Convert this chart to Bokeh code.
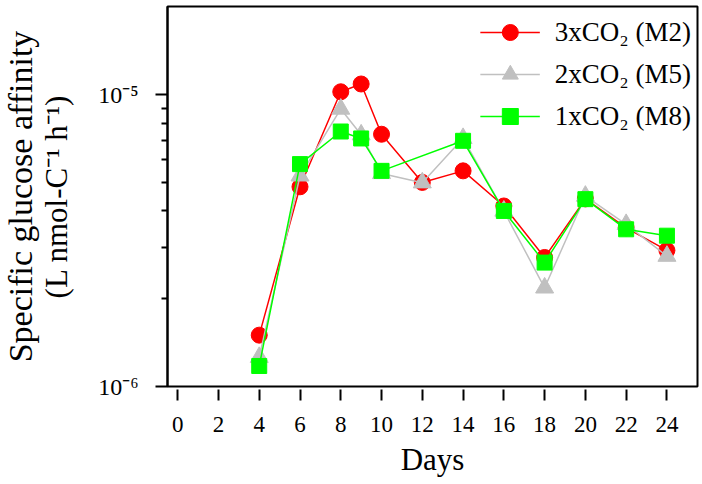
from bokeh.plotting import figure
from bokeh.models import Range1d, FixedTicker, CustomJSTickFormatter, Legend, LegendItem, Title
from bokeh.embed import file_html
from bokeh.resources import INLINE

# ---- data ----
days_m2 = [4, 6, 8, 9, 10, 12, 14, 16, 18, 20, 22, 24]
m2 = [1.50e-6, 4.84e-6, 1.025e-5, 1.09e-5, 7.33e-6, 5.01e-6, 5.49e-6, 4.16e-6, 2.77e-6, 4.40e-6, 3.50e-6, 2.93e-6]

days_m5 = [4, 6, 8, 9, 10, 12, 14, 16, 18, 20, 22, 24]
m5 = [1.26e-6, 5.28e-6, 8.95e-6, 7.30e-6, 5.38e-6, 5.00e-6, 7.10e-6, 4.00e-6, 2.18e-6, 4.50e-6, 3.60e-6, 2.80e-6]

days_m8 = [4, 6, 8, 9, 10, 14, 16, 18, 20, 22, 24]
m8 = [1.176e-6, 5.79e-6, 7.49e-6, 7.09e-6, 5.49e-6, 6.96e-6, 4.00e-6, 2.66e-6, 4.39e-6, 3.46e-6, 3.29e-6]

labels = ["3xCO\u2082 (M2)", "2xCO\u2082 (M5)", "1xCO\u2082 (M8)"]
x_ticks = list(range(0, 25, 2))
y_major = [1e-6, 1e-5]
y_minor = [2e-6, 3e-6, 4e-6, 5e-6, 6e-6, 7e-6, 8e-6, 9e-6]
y_title_1 = "Specific glucose affinity"
y_title_2 = "(L nmol-C\u207b\u00b9 h\u207b\u00b9)"
x_title = "Days"

FONT = "Liberation Serif"

p = figure(width=702, height=484, y_axis_type="log",
           x_range=Range1d(-0.5, 25.5), y_range=Range1d(1e-6, 2.01e-5),
           output_backend="svg", toolbar_location=None,
           min_border_left=167, min_border_right=5, min_border_top=6, min_border_bottom=98)

p.grid.visible = False
p.outline_line_color = "black"
p.outline_line_width = 2
p.background_fill_color = "white"
p.border_fill_color = "white"

# x axis
xa = p.xaxis[0]
xa.ticker = FixedTicker(ticks=x_ticks)
xa.axis_line_color = None
xa.major_tick_in = -3
xa.major_tick_out = 14
xa.major_tick_line_width = 2
xa.minor_tick_line_color = None
xa.major_label_text_font = FONT
xa.major_label_text_font_size = "23px"
xa.major_label_text_color = "black"
xa.major_label_standoff = 16
xa.axis_label = x_title
xa.axis_label_text_font = FONT
xa.axis_label_text_font_size = "31px"
xa.axis_label_text_font_style = "normal"
xa.axis_label_text_color = "black"
xa.axis_label_standoff = 7

# y axis
ya = p.yaxis[0]
ya.ticker = FixedTicker(ticks=y_major, minor_ticks=y_minor)
ya.formatter = CustomJSTickFormatter(code="""
const sup = {'-':'\u207b','0':'\u2070','1':'\u00b9','2':'\u00b2','3':'\u00b3','4':'\u2074','5':'\u2075','6':'\u2076','7':'\u2077','8':'\u2078','9':'\u2079'};
const e = Math.round(Math.log10(tick)).toString();
return '10' + e.split('').map(c => sup[c]).join('');
""")
ya.axis_line_width = 2
ya.major_tick_in = 0
ya.major_tick_out = 12
ya.major_tick_line_width = 2
ya.minor_tick_in = 0
ya.minor_tick_out = 6
ya.minor_tick_line_width = 2
ya.major_label_text_font = FONT
ya.major_label_text_font_size = "24px"
ya.major_label_text_color = "black"
ya.major_label_standoff = 17
ya.axis_label = y_title_2
ya.axis_label_text_font = FONT
ya.axis_label_text_font_size = "31px"
ya.axis_label_text_font_style = "normal"
ya.axis_label_text_color = "black"
ya.axis_label_standoff = 21

t1 = Title(text=y_title_1, align="center", text_font=FONT, text_font_size="34px",
           text_font_style="normal", text_color="black", standoff=-5, offset=0)
p.add_layout(t1, "left")

RED = "#ff0000"
GRAY = "#c0c0c0"
GREEN = "#00ff00"

l1 = p.line(days_m2, m2, line_color=RED, line_width=1.5)
s1 = p.scatter(days_m2, m2, marker="circle", size=16, fill_color=RED, line_color=RED)
l2 = p.line(days_m5, m5, line_color=GRAY, line_width=1.5)
s2 = p.scatter(days_m5, m5, marker="triangle", size=18, fill_color=GRAY, line_color=GRAY)
l3 = p.line(days_m8, m8, line_color=GREEN, line_width=1.5)
s3 = p.scatter(days_m8, m8, marker="square", size=15, fill_color=GREEN, line_color=GREEN)

legend = Legend(items=[
    LegendItem(label=labels[0], renderers=[l1, s1]),
    LegendItem(label=labels[1], renderers=[l2, s2]),
    LegendItem(label=labels[2], renderers=[l3, s3]),
], location="top_right")
legend.border_line_color = None
legend.background_fill_alpha = 0
legend.label_text_font = FONT
legend.label_text_font_size = "27px"
legend.label_text_color = "black"
legend.glyph_width = 60
legend.glyph_height = 40
legend.label_height = 40
legend.spacing = 2
legend.padding = 7
legend.margin = 6
legend.label_standoff = 15
p.add_layout(legend)

open("out.html", "w").write(file_html(p, INLINE))
